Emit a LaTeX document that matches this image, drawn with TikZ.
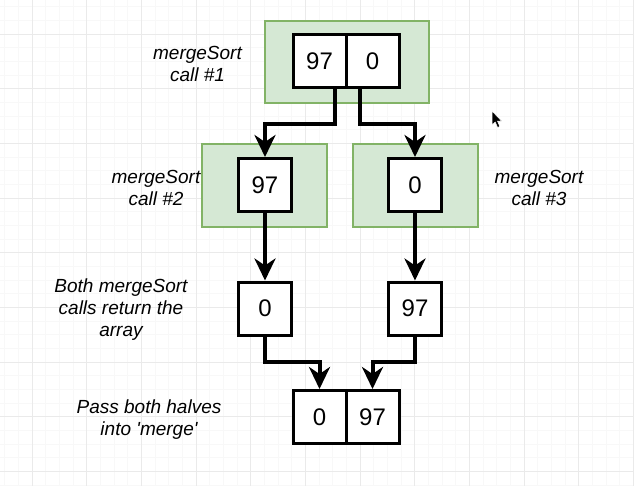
\documentclass[tikz,border=0pt]{standalone}
\usepackage{fontspec}
\setmainfont{Liberation Sans}[Ligatures=TeXOff]
\usetikzlibrary{arrows.meta,positioning}
\definecolor{callfill}{HTML}{D5E8D4}
\definecolor{callline}{HTML}{82B366}
\definecolor{gridmaj}{HTML}{EAEAEA}
\definecolor{gridmin}{HTML}{F8F8F8}
\tikzset{
  cell/.style={draw=black,line width=3pt,fill=white,minimum size=53pt,inner sep=0pt,font=\fontsize{24}{24}\selectfont},
  callbox/.style={draw=callline,fill=callfill,line width=2pt,inner sep=0pt},
  lab/.style={align=center,font=\fontsize{19}{22}\selectfont\itshape},
  conn/.style={line width=4pt,-{Stealth[length=22pt,width=21pt,inset=7pt]}},
}
\begin{document}
\begin{tikzpicture}[x=1pt,y=-1pt]
\useasboundingbox (0,0) rectangle (634,486);
%grid
\pgfmathsetmacro{\gs}{54.65}  %major grid step
\pgfmathsetmacro{\gx}{32.3}   %first major line x
\pgfmathsetmacro{\gy}{34.2}   %first major line y
\foreach \k in {-2,...,44}{
\draw[gridmin,line width=1pt] ({\gx+\k*\gs/4},0) -- ++(0,486);
}
\foreach \k in {-2,...,33}{
\draw[gridmin,line width=1pt] (0,{\gy+\k*\gs/4}) -- ++(634,0);
}
\foreach \k in {0,...,11}{
\draw[gridmaj,line width=1pt] ({\gx+\k*\gs},0) -- ++(0,486);
}
\foreach \k in {0,...,8}{
\draw[gridmaj,line width=1pt] (0,{\gy+\k*\gs}) -- ++(634,0);
}
%----------------------
%call #1
\node[callbox,minimum width=164pt,minimum height=82pt] (call1) at (347,62) {};
\node[cell] (c1a) at (319.5,61.5) {97};
\node[cell,right=-3pt of c1a] (c1b) {0};
%call #2 and #3
\node[callbox,minimum width=125pt,minimum height=83pt] (call2) at (264.5,185.5) {};
\node[callbox,minimum width=125pt,minimum height=83pt] (call3) at (415.5,185.5) {};
\node[cell] (c2) at (265,185) {97};
\node[cell] (c3) at (415,185) {0};
%returned arrays
\node[cell] (r2) at (265,308.5) {0};
\node[cell] (r3) at (415,308.5) {97};
%merge
\node[cell] (m1) at (319.5,417) {0};
\node[cell,right=-3pt of m1] (m2) {97};
%----------------------
%arrows
\draw[conn] ([xshift=15.5]c1a.south) -- ++(0,35) -| (c2.north);
\draw[conn] ([xshift=-12.5]c1b.south) -- ++(0,35) -| (c3.north);
\draw[conn] (c2) -- (r2);
\draw[conn] (c3) -- (r3);
\draw[conn] (r2.south) -- ++(0,25.5) -| (m1.north);
\draw[conn] (r3.south) -- ++(0,25.5) -| (m2.north);
%----------------------
%text
\node[lab] (l1) at (197.5,63.5) {mergeSort\\call \#1};
\node[lab] (l2) at (156,188) {mergeSort\\call \#2};
\node[lab] (l3) at (539,188) {mergeSort\\call \#3};
\node[lab] (l4) at (121,310) {Both mergeSort\\calls return the\\array};
\node[lab] (l5) at (149,419.5) {Pass both halves\\into 'merge'};
%cursor
\fill[black,draw=white,line width=0.5pt] (492,111) -- (492,125) -- (495.2,122) -- (497.6,127.5) -- (499.8,126.5) -- (497.5,121.2) -- (501.5,121) -- cycle;
\end{tikzpicture}
\end{document}
